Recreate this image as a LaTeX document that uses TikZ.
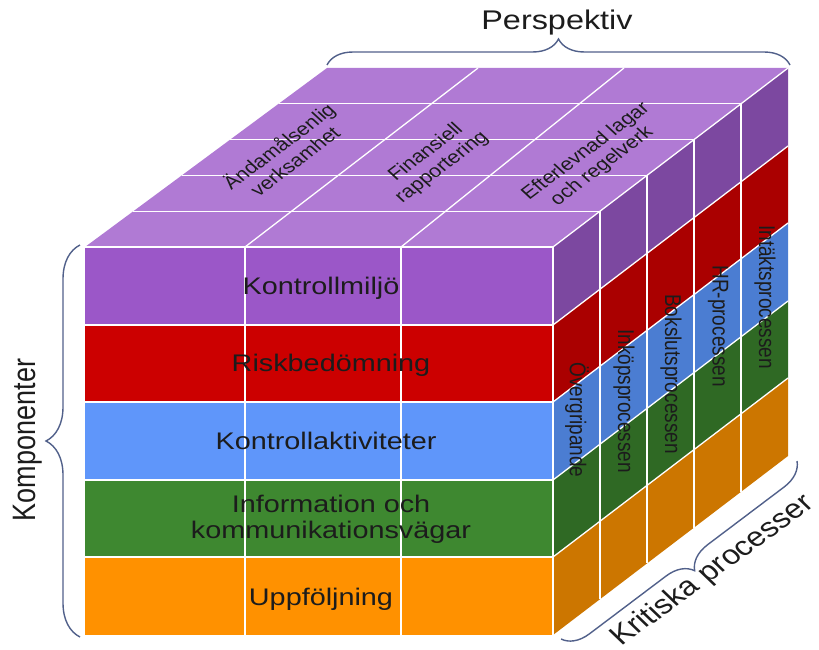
\documentclass[tikz,border=0pt]{standalone}
\usepackage{fontspec}
\setmainfont{Liberation Sans}
\usetikzlibrary{decorations.pathreplacing}

\definecolor{topviolet}{HTML}{B07AD4}
\definecolor{frontviolet}{HTML}{9B57C8}
\definecolor{sideviolet}{HTML}{7C48A0}
\definecolor{frontred}{HTML}{CC0000}
\definecolor{sidered}{HTML}{AA0000}
\definecolor{frontblue}{HTML}{5F96FA}
\definecolor{sideblue}{HTML}{4B7DD2}
\definecolor{frontgreen}{HTML}{3E8830}
\definecolor{sidegreen}{HTML}{2F6924}
\definecolor{frontorange}{HTML}{FF9100}
\definecolor{sideorange}{HTML}{CC7600}
\definecolor{inkcol}{HTML}{1C1C1C}
\definecolor{bracecol}{HTML}{51608A}

\tikzset{
  gridline/.style={white, line width=1.3pt},
  frontlabel/.style={text=inkcol, align=center, xscale=1.2,
    font=\fontsize{24}{26}\selectfont},
  toplabel/.style={text=inkcol, align=center, xscale=1.2,
    font=\fontsize{18}{20}\selectfont},
  sidelabel/.style={text=inkcol, xscale=1.2,
    font=\fontsize{19}{21}\selectfont},
  titlelabel/.style={text=inkcol, xscale=1.2,
    font=\fontsize{27}{30}\selectfont},
  curly/.style={decorate, decoration={brace, amplitude=#1},
    draw=bracecol, line width=1.4pt}
}

\begin{document}
\begin{tikzpicture}[x=1pt, y=-1pt]
            \useasboundingbox (0,0) rectangle (819,650);

            % Front face
            \fill[frontviolet] (85,247) rectangle (553,325);
            \fill[frontred] (85,325) rectangle (553,402);
            \fill[frontblue] (85,402) rectangle (553,480);
            \fill[frontgreen] (85,480) rectangle (553,557);
            \fill[frontorange] (85,557) rectangle (553,635);

            % Top face
            \fill[topviolet] (85,247) -- (553,247) -- (788,68) -- (327,68) -- cycle;

            % Side face
            \fill[sideviolet] (553,247) -- (788,68) -- (788,146) -- (553,325) -- cycle;
            \fill[sidered] (553,325) -- (788,146) -- (788,223) -- (553,402) -- cycle;
            \fill[sideblue] (553,402) -- (788,223) -- (788,301) -- (553,480) -- cycle;
            \fill[sidegreen] (553,480) -- (788,301) -- (788,378) -- (553,557) -- cycle;
            \fill[sideorange] (553,557) -- (788,378) -- (788,456) -- (553,635) -- cycle;

            % Grid lines, front
            \draw[gridline] (85,247) -- (553,247);
            \draw[gridline] (85,325) -- (553,325);
            \draw[gridline] (85,402) -- (553,402);
            \draw[gridline] (85,480) -- (553,480);
            \draw[gridline] (85,557) -- (553,557);
            \draw[gridline] (245,247) -- (245,635);
            \draw[gridline] (401,247) -- (401,635);
            \draw[gridline] (553,247) -- (553,635);

            % Grid lines, top
            \draw[gridline] (133.4,211.2) -- (600,211.2);
            \draw[gridline] (181.8,175.4) -- (647,175.4);
            \draw[gridline] (230.2,139.6) -- (694,139.6);
            \draw[gridline] (278.6,103.8) -- (741,103.8);
            \draw[gridline] (245,247) -- (478,68);
            \draw[gridline] (401,247) -- (624,68);
            \draw[gridline] (553,247) -- (788,68);

            % Grid lines, side
            \draw[gridline] (553,325) -- (788,146);
            \draw[gridline] (553,402) -- (788,223);
            \draw[gridline] (553,480) -- (788,301);
            \draw[gridline] (553,557) -- (788,378);
            \draw[gridline] (600,211.2) -- (600,599.2);
            \draw[gridline] (647,175.4) -- (647,563.4);
            \draw[gridline] (694,139.6) -- (694,527.6);
            \draw[gridline] (741,103.8) -- (741,491.8);

            % Components
            \node[frontlabel] (miljo) at (321,288) {Kontrollmiljö};
            \node[frontlabel] (risk) at (331,365) {Riskbedömning};
            \node[frontlabel] (aktiv) at (326,441) {Kontrollaktiviteter};
            \node[frontlabel] (info) at (331,519) {Information och\\kommunikationsvägar};
            \node[frontlabel] (uppf) at (321,599) {Uppföljning};

            % Perspectives
            \node[toplabel, rotate=42] (andamal) at (286,153) {Ändamålsenlig\\verksamhet};
            \node[toplabel, rotate=42] (finans) at (434,160) {Finansiell\\rapportering};
            \node[toplabel, rotate=42] (lagar) at (594,159) {Efterlevnad lagar\\och regelverk};

            % Processes
            \node[sidelabel, rotate=-90] (overgr) at (577,420) {Övergripande};
            \node[sidelabel, rotate=-90] (inkop) at (624,401) {Inköpsprocessen};
            \node[sidelabel, rotate=-90] (bokslut) at (671,374) {Bokslutsprocessen};
            \node[sidelabel, rotate=-90] (hr) at (718,326) {HR-processen};
            \node[sidelabel, rotate=-90] (intakt) at (765,297) {Intäktsprocessen};

            % Braces
            \coordinate (perspL) at (327,65);
            \coordinate (perspR) at (790,65);
            \coordinate (kompB) at (80,637);
            \coordinate (kompT) at (80,245);
            \coordinate (kritR) at (797,461);
            \coordinate (kritL) at (561,639);
            \draw[curly=26] (perspL) -- (perspR);
            \draw[curly=34] (kompB) -- (kompT);
            \draw[curly=26] (kritR) -- (kritL);

            \node[titlelabel] (persp) at (557,23) {Perspektiv};
            \node[titlelabel, rotate=90] (komp) at (28,440) {Komponenter};
            \node[titlelabel, rotate=41] (krit) at (713,571) {Kritiska processer};
\end{tikzpicture}
\end{document}
